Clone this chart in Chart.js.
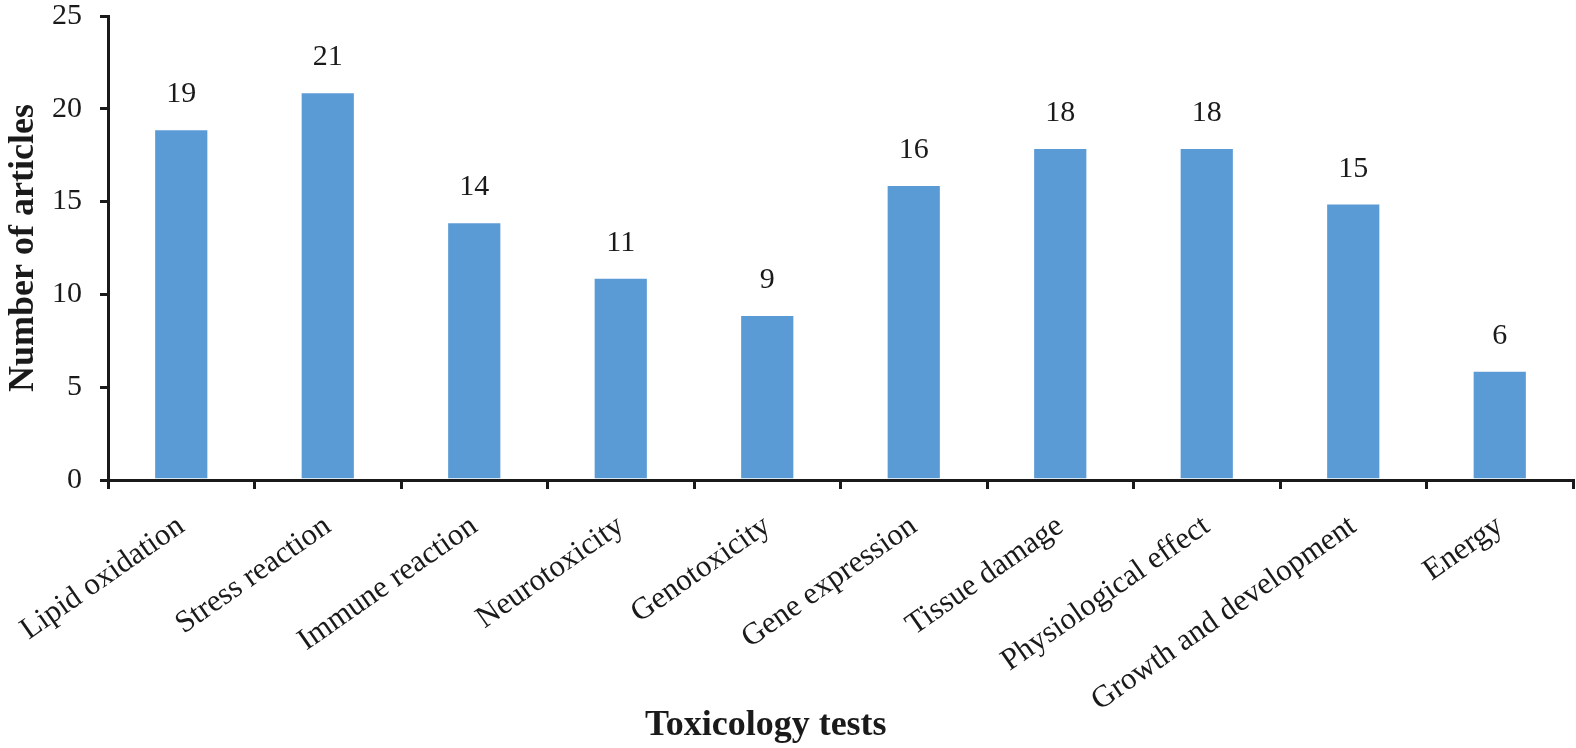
<!DOCTYPE html>
<html>
<head>
<meta charset="utf-8">
<script src="https://cdn.jsdelivr.net/npm/chart.js@4.4.1/dist/chart.umd.min.js"></script>
<style>
  html, body { margin:0; padding:0; background:#fff; }
  #wrap { width:1576px; height:748px; }
</style>
</head>
<body>
<div id="wrap"><canvas id="bar"></canvas></div>
<script>
const categories = ['Lipid oxidation','Stress reaction','Immune reaction','Neurotoxicity','Genotoxicity',
  'Gene expression','Tissue damage','Physiological effect','Growth and development','Energy'];
const articles = [19, 21, 14, 11, 9, 16, 18, 18, 15, 6];
const yTicks = [0, 5, 10, 15, 20, 25];

const FONT = '"Liberation Serif", "Times New Roman", serif';
const INK = '#1a1a1a';

// numbers above bars
const valueLabels = {
  id:'valueLabels',
  afterDatasetsDraw(chart){
    const ctx = chart.ctx;
    const y = chart.scales.y;
    ctx.save();
    ctx.font = '30px ' + FONT;
    ctx.fillStyle = INK;
    ctx.textAlign = 'center';
    ctx.textBaseline = 'alphabetic';
    chart.getDatasetMeta(0).data.forEach((bar,i)=>{
      ctx.fillText(String(articles[i]), bar.x, y.getPixelForValue(articles[i]) - 25);
    });
    ctx.restore();
  }
};

// x axis title sits left of the axis centre in the original
const xTitle = {
  id:'xTitle',
  afterDraw(chart){
    const ctx = chart.ctx, a = chart.chartArea;
    ctx.save();
    ctx.font = 'bold 36px ' + FONT;
    ctx.fillStyle = INK;
    ctx.textAlign = 'center';
    ctx.textBaseline = 'alphabetic';
    ctx.fillText('Toxicology tests', a.left + a.width*0.449, 735);
    ctx.restore();
  }
};

new Chart(document.getElementById('bar').getContext('2d'), {
  type:'bar',
  data:{
    labels:categories,
    datasets:[{
      data:articles,
      backgroundColor:'#5b9bd5',
      borderColor:'#ffffff',
      borderWidth:{top:3,left:1,right:1,bottom:0},
      borderSkipped:'start',
      barPercentage:0.37,
      categoryPercentage:1
    }]
  },
  options:{
    responsive:true,
    maintainAspectRatio:false,
    animation:false,
    layout:{padding:{top:16,right:3,left:0,bottom:0}},
    plugins:{legend:{display:false}, tooltip:{enabled:false}},
    scales:{
      x:{
        afterFit(s){ s.height = 268; s.paddingLeft = 0; s.paddingRight = 0; },
        grid:{display:true, offset:true, drawOnChartArea:false, drawTicks:true, tickLength:9, color:INK, lineWidth:3},
        border:{display:true, color:INK, width:3},
        ticks:{color:INK, font:{family:FONT, size:31}, maxRotation:35, minRotation:35, padding:19, autoSkip:false}
      },
      y:{
        min:0, max:25,
        afterFit(s){ s.width = 108; s.paddingTop = 0; s.paddingBottom = 0; },
        afterBuildTicks(s){ s.ticks = yTicks.map(v=>({value:v})); },
        grid:{display:true, drawOnChartArea:false, drawTicks:true, tickLength:8, color:INK, lineWidth:3},
        border:{display:true, color:INK, width:3},
        ticks:{color:INK, font:{family:FONT, size:30}, padding:18},
        title:{display:true, text:'Number of articles', color:INK, font:{family:FONT, size:36, weight:'bold'}, padding:{top:2,bottom:0}}
      }
    }
  },
  plugins:[valueLabels, xTitle]
});
</script>
</body>
</html>
